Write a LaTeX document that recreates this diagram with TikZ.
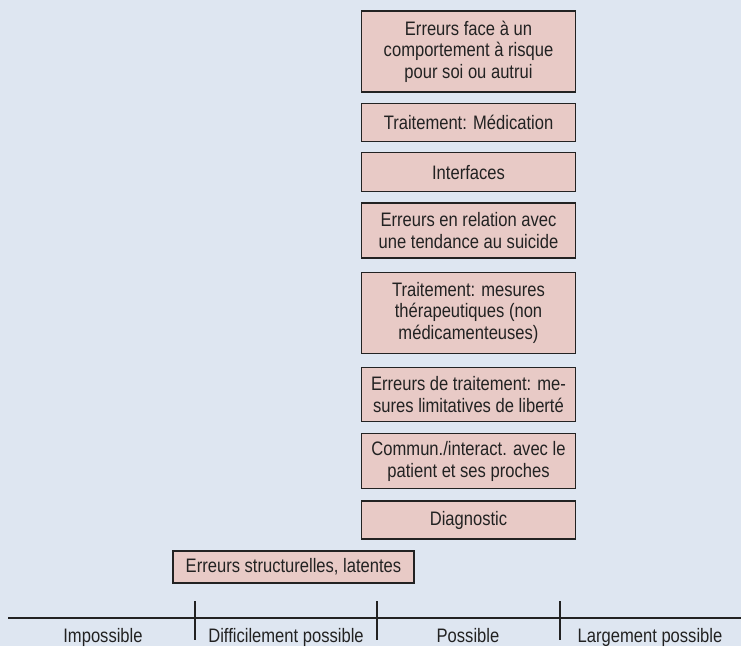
\documentclass[tikz,border=0pt]{standalone}
\usepackage{fontspec}
\setmainfont{Liberation Sans}[FakeStretch=0.85]
\usetikzlibrary{positioning}
\definecolor{bgblue}{HTML}{DEE6F1}
\definecolor{boxrose}{HTML}{E8CAC6}
\definecolor{inkgray}{HTML}{222222}

\begin{document}
\begin{tikzpicture}[x=1pt, y=-1pt, node distance=11pt,
    errbox/.style={draw=inkgray, line width=1.3pt, fill=boxrose,
                   text=inkgray, align=center, minimum width=214pt,
                   inner sep=0pt, font=\fontsize{19.5}{21.6}\selectfont},
    zonelabel/.style={anchor=base, text=inkgray,
                      font=\fontsize{19.5}{21.6}\selectfont}]

  \fill[bgblue] (0,0) rectangle (741,646);
  \useasboundingbox (0,0) rectangle (741,646);

  % error categories, top to bottom
  \node[errbox, minimum height=81pt] (risque) at (468.5,51.5)
       {Erreurs face à un\\comportement à risque\\pour soi ou autrui};
  \node[errbox, minimum height=38pt, below=10pt of risque] (medic)
       {Traitement: Médication};
  \node[errbox, minimum height=39pt, below=10pt of medic] (interf)
       {Interfaces};
  \node[errbox, minimum height=55pt, below=10pt of interf] (suicide)
       {Erreurs en relation avec\\une tendance au suicide};
  \node[errbox, minimum height=81pt, below=13pt of suicide] (nonmed)
       {Traitement: mesures\\thérapeutiques (non\\médicamenteuses)};
  \node[errbox, minimum height=54pt, below=13pt of nonmed] (liberte)
       {Erreurs de traitement: me-\\sures limitatives de liberté};
  \node[errbox, minimum height=55pt, below=11pt of liberte] (commun)
       {Commun./interact. avec le\\patient et ses proches};
  \node[errbox, minimum height=38pt, below=11pt of commun] (diag)
       {Diagnostic};

  \node[errbox, minimum width=241pt, minimum height=32pt] (latent) at (293.5,567)
       {Erreurs structurelles, latentes};

  % scale
  \draw[inkgray, line width=1.3pt] (8,618) -- (741,618);
  \foreach \x in {195,377,560}
    \draw[inkgray, line width=1.3pt] (\x,601) -- (\x,640);

  \foreach \x/\t [count=\i] in {103/Impossible, 286/Difficilement possible,
                                468/Possible, 650/Largement possible}
    \node[zonelabel] (zone\i) at (\x,642) {\t};

\end{tikzpicture}
\end{document}
